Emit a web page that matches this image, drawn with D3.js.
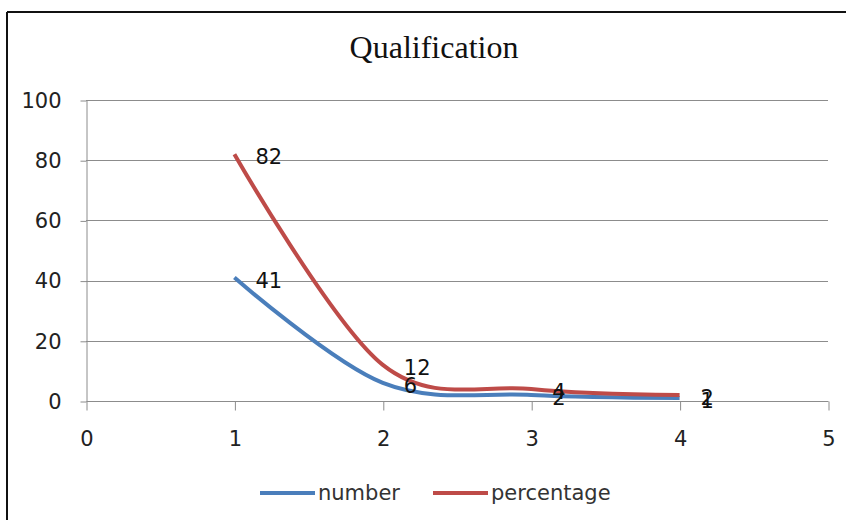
<!DOCTYPE html>
<html>
<head>
<meta charset="utf-8">
<script src="https://cdn.jsdelivr.net/npm/d3@7"></script>
<style>
  html, body { margin: 0; padding: 0; background: #fff; }
  svg { display: block; }
</style>
</head>
<body>
<svg id="chart" width="846" height="520"></svg>
<script>
const title = "Qualification";
const xValues = [1, 2, 3, 4];
const numberValues = [41, 6, 2, 1];
const percentageValues = [82, 12, 4, 2];
const seriesNames = ["number", "percentage"];
const seriesColors = ["#4A7EBB", "#BE4B48"];
const xTicks = [0, 1, 2, 3, 4, 5];
const yTicks = [0, 20, 40, 60, 80, 100];

const series = [
  { name: seriesNames[0], color: seriesColors[0], values: numberValues },
  { name: seriesNames[1], color: seriesColors[1], values: percentageValues }
];

const svg = d3.select("#chart");
const font = "DejaVu Sans, sans-serif";

svg.append("rect").attr("width", 846).attr("height", 520).attr("fill", "#fff");
// outer chart border (only top and left visible)
svg.append("path").attr("d", "M7,12H846M7,12V520")
  .attr("stroke", "#111").attr("stroke-width", 2).attr("fill", "none");

const x = d3.scaleLinear().domain([0, 5]).range([86, 828]);
const y = d3.scaleLinear().domain([0, 100]).range([401, 100]);

// gridlines
svg.append("g").selectAll("line").data(yTicks.filter(d => d > 0)).join("line")
  .attr("x1", x(0)).attr("x2", x(5))
  .attr("y1", d => Math.round(y(d)) + 0.5).attr("y2", d => Math.round(y(d)) + 0.5)
  .attr("stroke", "#8c8c8c").attr("stroke-width", 1);

// y axis
const yAxis = svg.append("g").attr("transform", "translate(86.5,0.5)")
  .call(d3.axisLeft(y).tickValues(yTicks).tickFormat(d3.format("d"))
    .tickSizeInner(6).tickSizeOuter(0).tickPadding(19));
// x axis
const xAxis = svg.append("g").attr("transform", `translate(0.5,${Math.round(y(0)) + 0.5})`)
  .call(d3.axisBottom(x).tickValues(xTicks).tickFormat(d3.format("d"))
    .tickSizeInner(9).tickSizeOuter(0).tickPadding(21));

[yAxis, xAxis].forEach(a => {
  a.selectAll("path, line").attr("stroke", "#8c8c8c");
  a.selectAll("text").attr("font-family", font).attr("font-size", 21).attr("fill", "#222");
});
xAxis.select(".domain").attr("d", `M${x(0)},0H${x(5)}`);

// title
svg.append("text").attr("x", 434).attr("y", 58).attr("text-anchor", "middle")
  .attr("font-family", "Liberation Serif, Times New Roman, serif").attr("font-size", 32)
  .attr("fill", "#111").text(title);

// lines
const line = d3.line().x(d => x(d[0])).y(d => y(d[1])).curve(d3.curveCardinal.tension(0));
series.forEach(s => {
  svg.append("path").datum(xValues.map((xv, i) => [xv, s.values[i]]))
    .attr("d", line).attr("fill", "none").attr("stroke", s.color)
    .attr("stroke-width", 4).attr("stroke-linecap", "butt");
});

// data labels
series.forEach(s => {
  svg.append("g").selectAll("text").data(xValues.map((xv, i) => [xv, s.values[i]])).join("text")
    .attr("x", d => x(d[0]) + 21).attr("y", d => y(d[1]) + 3)
    .attr("dominant-baseline", "central")
    .attr("font-family", font).attr("font-size", 21).attr("fill", "#111")
    .text(d => d[1]);
});

// legend
const legendX = [260, 433];
series.forEach((s, i) => {
  const g = svg.append("g").attr("transform", `translate(${legendX[i]},493)`);
  g.append("line").attr("x1", 0).attr("x2", 55).attr("y1", 0).attr("y2", 0)
    .attr("stroke", s.color).attr("stroke-width", 4);
  g.append("text").attr("x", 58).attr("y", 0).attr("dominant-baseline", "central")
    .attr("font-family", font).attr("font-size", 21).attr("fill", "#333").text(s.name);
});
</script>
</body>
</html>
